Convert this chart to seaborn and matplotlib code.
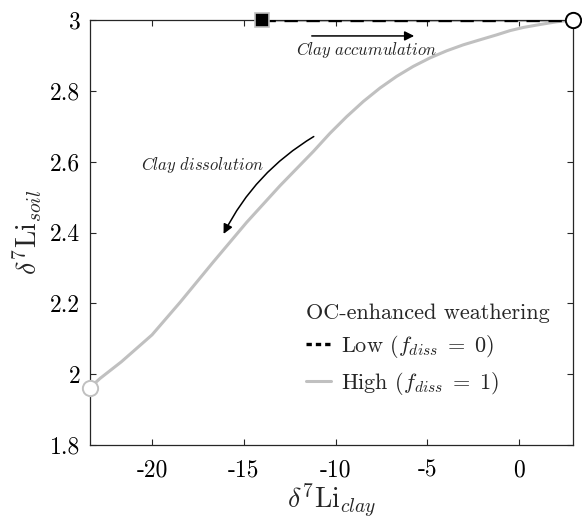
import numpy as np
import pandas as pd
import matplotlib
matplotlib.use("Agg")
import matplotlib.pyplot as plt
from matplotlib.lines import Line2D
import seaborn as sns

# values
high_x = [-23.38, -22.83, -21.67, -20.00, -18.47, -16.66, -14.84, -13.03,
          -11.21, -10.31, -9.40, -8.49, -7.58, -6.67, -5.77, -4.86, -3.95,
          -3.04, -2.14, -1.23, -0.50, 0.23, 1.10, 2.05, 2.93]
high_y = [1.962, 1.988, 2.035, 2.111, 2.203, 2.317, 2.429, 2.532,
          2.629, 2.680, 2.727, 2.770, 2.808, 2.841, 2.869, 2.893, 2.913,
          2.930, 2.944, 2.958, 2.970, 2.979, 2.987, 2.995, 3.000]
low_x = [-14.0, 2.93]
low_y = [3.0, 3.0]

x_ticks = [-20, -15, -10, -5, 0]
y_ticks = [1.8, 2.0, 2.2, 2.4, 2.6, 2.8, 3.0]
y_tick_labels = ["1.8", "2", "2.2", "2.4", "2.6", "2.8", "3"]

sns.set_style("ticks")
plt.rcParams["font.family"] = "serif"
plt.rcParams["font.serif"] = ["cmr10", "DejaVu Serif"]
plt.rcParams["mathtext.fontset"] = "cm"
plt.rcParams["axes.unicode_minus"] = False
plt.rcParams["axes.formatter.use_mathtext"] = False

gray = "#c0c0c0"
axcol = "#262626"

fig = plt.figure(figsize=(5.82, 5.18), dpi=100)
ax = fig.add_axes([0.1546, 0.1409, 0.8299, 0.8205])

high_df = pd.DataFrame({"x": high_x, "y": high_y})
low_df = pd.DataFrame({"x": low_x, "y": low_y})

# gray track under the dashed line
ax.plot(low_df["x"], low_df["y"], color=gray, lw=2.2, solid_capstyle="butt", zorder=2)
sns.lineplot(data=low_df, x="x", y="y", ax=ax, color="black", lw=2.4,
             linestyle=(0, (4, 2.6)), sort=False, zorder=3)
sns.lineplot(data=high_df, x="x", y="y", ax=ax, color=gray, lw=2.2,
             sort=False, zorder=2)

# end markers
ax.plot(low_x[0], low_y[0], "s", ms=10, mfc="black", mec=gray, mew=1.2, clip_on=False, zorder=5)
ax.plot(high_x[-1], high_y[-1], "o", ms=11, mfc="white", mec="black", mew=1.4, clip_on=False, zorder=5)
ax.plot(high_x[0], high_y[0], "o", ms=11, mfc="white", mec=gray, mew=1.4, clip_on=False, zorder=5)

ax.set_xlim(-23.38, 2.93)
ax.set_ylim(1.8, 3.0)
ax.set_xticks(x_ticks)
ax.set_xticklabels([str(t) for t in x_ticks])
ax.set_yticks(y_ticks)
ax.set_yticklabels(y_tick_labels)
ax.tick_params(direction="in", length=4, width=0.8, colors=axcol, labelcolor="black",
               labelsize=17, top=True, right=True)
ax.tick_params(axis="x", pad=10)
ax.tick_params(axis="y", pad=7)
for s in ax.spines.values():
    s.set_color(axcol)
    s.set_linewidth(0.9)

ax.set_xlabel(r"$\delta^7\mathrm{Li}_{clay}$", fontsize=20, labelpad=0)
ax.set_ylabel(r"$\delta^7\mathrm{Li}_{soil}$", fontsize=20, labelpad=4)

# annotations
ax.annotate("", xy=(-5.57, 2.955), xytext=(-11.45, 2.955),
            arrowprops=dict(arrowstyle="-|>", color="black", lw=1.1, mutation_scale=14))
ax.text(-8.32, 2.914, r"$\mathit{Clay\ accumulation}$", fontsize=12, ha="center", va="center")
ax.annotate("", xy=(-16.17, 2.389), xytext=(-11.06, 2.675),
            arrowprops=dict(arrowstyle="-|>", color="black", lw=1.1, mutation_scale=14,
                            connectionstyle="arc3,rad=0.15"))
ax.text(-17.25, 2.591, r"$\mathit{Clay\ dissolution}$", fontsize=12, ha="center", va="center")

# legend handles (short dashes like the original)
handles = [Line2D([], [], color="black", lw=2.4, linestyle=(0, (1.6, 1.2))),
           Line2D([], [], color=gray, lw=2.2)]
labels = [r"Low ($f_{diss}\;=\;0$)", r"High ($f_{diss}\;=\;1$)"]
leg = ax.legend(handles, labels, title="OC-enhanced weathering", loc="lower right",
                bbox_to_anchor=(0.980, 0.081), frameon=False, fontsize=16,
                title_fontsize=16, handlelength=1.1, handletextpad=0.45,
                labelspacing=0.45, borderaxespad=0.2)
leg.set_alignment("left")

fig.savefig("out.png", dpi=100)
